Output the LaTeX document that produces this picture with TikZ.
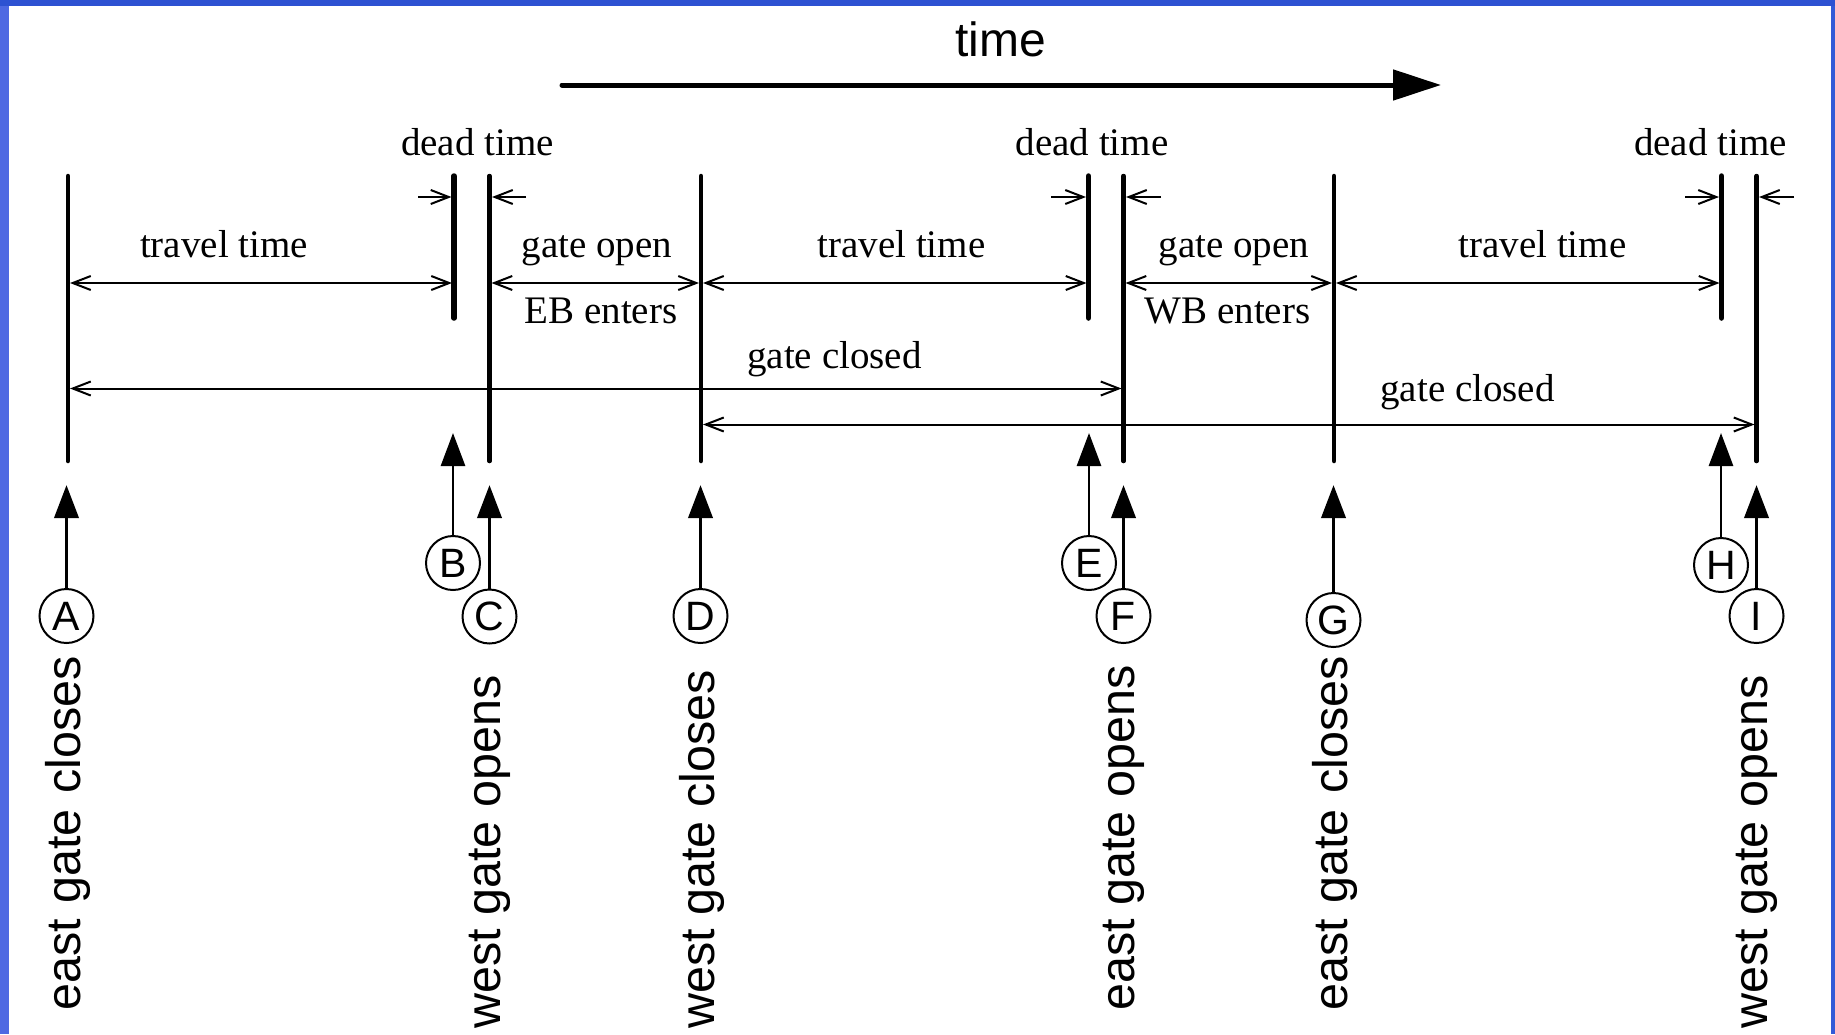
\documentclass[tikz,border=0pt]{standalone}
\usepackage{fontspec}
\setmainfont{Liberation Serif}
\setsansfont{Liberation Sans}
\usetikzlibrary{arrows.meta}
\definecolor{frameblue}{RGB}{78,105,226}
\definecolor{topblue}{RGB}{45,82,210}
\definecolor{rightblue}{RGB}{50,90,215}
\begin{document}
\begin{tikzpicture}[x=1pt,y=-1pt,
  gateline/.style={line width=4.5pt, line cap=round},
  deadline/.style={line width=5.5pt, line cap=round},
  barb/.tip={Straight Barb[length=18pt,width=14pt]},
  dimboth/.style={line width=2pt, {barb}-{barb}, shorten <=2pt, shorten >=2pt},
  dimone/.style={line width=2pt, -{barb}, shorten >=2.5pt},
  evarrow/.style={line width=3.8pt, -{Triangle[length=33pt,width=24pt]}},
  evthin/.style={line width=2.8pt, -{Triangle[length=33pt,width=24pt]}},
  evcirc/.style={circle, draw, line width=2pt, minimum size=54pt, inner sep=0pt,
     font=\sffamily\fontsize{41}{41}\selectfont},
  serlab/.style={anchor=base, inner sep=0pt, font=\fontsize{39}{45}\selectfont},
  vlabel/.style={rotate=90, anchor=west, inner sep=0pt,
     font=\sffamily\fontsize{48.5}{50}\selectfont}
]
% background frame
\fill[frameblue] (0,0) rectangle (1835,1034);
\fill[topblue] (0,0) rectangle (1835,6);
\fill[rightblue] (1831,6) rectangle (1835,1034);
\fill[white] (9,6) rectangle (1831,1034);
\useasboundingbox (0,0) rectangle (1835,1034);

% reference heights
\coordinate (top) at (0,176);
\coordinate (bot) at (0,461);
\coordinate (sbot) at (0,318);
\coordinate (r0) at (0,197);
\coordinate (r1) at (0,283);
\coordinate (r2) at (0,388.5);
\coordinate (r3) at (0,424.5);
\coordinate (tipy) at (0,485);
\coordinate (tipys) at (0,433);

% gate event positions
\coordinate (A) at (68,0);
\coordinate (B) at (454,0);
\coordinate (C) at (489.5,0);
\coordinate (D) at (701,0);
\coordinate (E) at (1088.5,0);
\coordinate (F) at (1123.5,0);
\coordinate (G) at (1334,0);
\coordinate (H) at (1721.5,0);
\coordinate (I) at (1756.5,0);

% time arrow
\node[font=\sffamily\fontsize{48}{50}\selectfont, anchor=base, inner sep=0pt] (timelab) at (1000.5,56.5) {time};
\coordinate (t0) at (562,85);
\coordinate (t1) at (1441,85);
\draw[line width=5pt, line cap=round, -{Triangle[length=48pt,width=30pt]}] (t0) -- (t1);

% vertical lines
\foreach \p in {A,C,D,F,G,I} \draw[gateline] (\p |- top) -- (\p |- bot);
\foreach \p in {B,E,H} \draw[deadline] (\p |- top) -- (\p |- sbot);

% dead time arrows
\coordinate (dB) at (418,197);
\coordinate (dC) at (526,197);
\coordinate (dE) at (1051,197);
\coordinate (dF) at (1161,197);
\coordinate (dH) at (1685,197);
\coordinate (dI) at (1794,197);
\draw[dimone] (dB) -- (B |- r0);
\draw[dimone] (dC) -- (C |- r0);
\draw[dimone] (dE) -- (E |- r0);
\draw[dimone] (dF) -- (F |- r0);
\draw[dimone] (dH) -- (H |- r0);
\draw[dimone] (dI) -- (I |- r0);
\node[serlab] (dt1) at (477.5,155) {dead time};
\node[serlab] (dt2) at (1092,155) {dead time};
\node[serlab] (dt3) at (1710.5,155) {dead time};

% interval arrows
\draw[dimboth] (A |- r1) -- (B |- r1);
\draw[dimboth] (C |- r1) -- (D |- r1);
\draw[dimboth] (D |- r1) -- (E |- r1);
\draw[dimboth] (F |- r1) -- (G |- r1);
\draw[dimboth] (G |- r1) -- (H |- r1);
\node[serlab] (tt1) at (224,257) {travel time};
\node[serlab] (go1) at (597,257) {gate open};
\node[serlab] (eb) at (601,323) {EB enters};
\node[serlab] (tt2) at (901.5,257) {travel time};
\node[serlab] (go2) at (1234,257) {gate open};
\node[serlab] (wb) at (1227.5,323) {WB enters};
\node[serlab] (tt3) at (1542.5,257) {travel time};

% gate closed arrows
\draw[dimboth] (A |- r2) -- (F |- r2);
\draw[dimboth] (D |- r3) -- (I |- r3);
\node[serlab] (gc1) at (834.5,368) {gate closed};
\node[serlab] (gc2) at (1467.5,401.5) {gate closed};

% event circles and arrows
\node[evcirc] (cA) at (66.5,616) {A};
\node[evcirc] (cB) at (453,563) {B};
\node[evcirc] (cC) at (489.5,616.5) {C};
\node[evcirc] (cD) at (700.5,616) {D};
\node[evcirc] (cE) at (1089,563) {E};
\node[evcirc] (cF) at (1123.5,616) {F};
\node[evcirc] (cG) at (1333.5,620) {G};
\node[evcirc] (cH) at (1721,565) {H};
\node[evcirc] (cI) at (1756.5,616) {I};
\draw[evarrow] (cA.north) -- (cA |- tipy);
\draw[evthin]  (cB.north) -- (cB |- tipys);
\draw[evarrow] (cC.north) -- (cC |- tipy);
\draw[evarrow] (cD.north) -- (cD |- tipy);
\draw[evthin]  (cE.north) -- (cE |- tipys);
\draw[evarrow] (cF.north) -- (cF |- tipy);
\draw[evarrow] (cG.north) -- (cG |- tipy);
\draw[evthin]  (cH.north) -- (cH |- tipys);
\draw[evarrow] (cI.north) -- (cI |- tipy);

% vertical labels
\node[vlabel] (lA) at (68,1011) {east\hspace{2pt} gate\hspace{2pt} closes};
\node[vlabel] (lC) at (490,1029) {west gate opens};
\node[vlabel] (lD) at (701.5,1029) {west gate closes};
\node[vlabel] (lF) at (1124,1011) {east gate opens};
\node[vlabel] (lG) at (1335,1011) {east\hspace{2pt} gate\hspace{2pt} closes};
\node[vlabel] (lI) at (1757,1029) {west gate opens};
\end{tikzpicture}
\end{document}
